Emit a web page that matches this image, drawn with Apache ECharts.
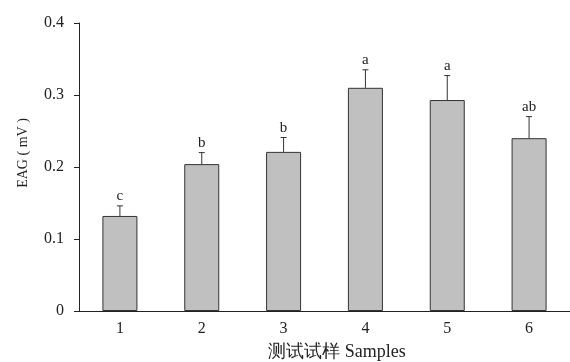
<!DOCTYPE html>
<html><head><meta charset="utf-8">
<script src="https://cdn.jsdelivr.net/npm/echarts@6/dist/echarts.min.js"></script>
<style>html,body{margin:0;padding:0;background:#fff}#c{width:570px;height:362px}</style>
</head><body><div id="c"></div>
<script>
const categories = ['1','2','3','4','5','6'];
const means = [0.132, 0.204, 0.221, 0.310, 0.293, 0.240];
const errors = [0.014, 0.016, 0.020, 0.025, 0.034, 0.030];
const letters = ['c','b','b','a','a','ab'];
const yTicks = [0, 0.1, 0.2, 0.3, 0.4];
const xTitle = '测试试样 Samples';
const yTitle = 'EAG ( mV )';

const serif = '"Liberation Serif","DejaVu Serif",serif';
const chart = echarts.init(document.getElementById('c'));
chart.setOption({
  backgroundColor: '#fff',
  animation: false,
  grid: {left: 79, right: -9, top: 23, bottom: 51},
  graphic: [
    {type: 'text', x: 23, y: 153, rotation: Math.PI / 2,
      style: {text: yTitle, fill: '#222', font: '14px ' + serif, align: 'center', verticalAlign: 'middle'}},
    {type: 'text', x: 337, y: 352,
      style: {text: xTitle, fill: '#222', font: '18px ' + serif, align: 'center', verticalAlign: 'middle'}}
  ],
  xAxis: {
    type: 'category', data: categories,
    axisLine: {lineStyle: {color: '#222', width: 1}},
    axisTick: {show: false},
    axisLabel: {color: '#222', fontFamily: serif, fontSize: 16, margin: 10}
  },
  yAxis: {
    type: 'value', min: 0, max: 0.4, interval: 0.1,
    splitLine: {show: false},
    axisLine: {show: true, lineStyle: {color: '#222', width: 1}},
    axisTick: {show: true, length: 5, lineStyle: {color: '#222'}},
    axisLabel: {color: '#222', fontFamily: serif, fontSize: 16, margin: 15,
      formatter: v => { const t = yTicks.find(x => Math.abs(x - v) < 1e-9); return t === 0 ? '0' : String(t); }}
  },
  series: [
    {
      type: 'bar', data: means, barWidth: 35,
      itemStyle: {color: '#c0c0c0', borderColor: '#333', borderWidth: 1}
    },
    {
      type: 'custom',
      data: means.map((m, i) => [i, m, m + errors[i], letters[i]]),
      renderItem: function (params, api) {
        const x = api.value(0);
        const p0 = api.coord([x, api.value(1)]);
        const p1 = api.coord([x, api.value(2)]);
        const style = {stroke: '#333', lineWidth: 1};
        return {
          type: 'group',
          children: [
            {type: 'line', shape: {x1: p0[0], y1: p0[1], x2: p1[0], y2: p1[1]}, style},
            {type: 'line', shape: {x1: p1[0] - 3, y1: p1[1], x2: p1[0] + 3, y2: p1[1]}, style},
            {type: 'text', x: p1[0], y: p1[1] - 2,
              style: {text: api.value(3), fill: '#222', font: '15px ' + serif, align: 'center', verticalAlign: 'bottom'}}
          ]
        };
      },
      z: 3
    }
  ]
});
</script></body></html>
